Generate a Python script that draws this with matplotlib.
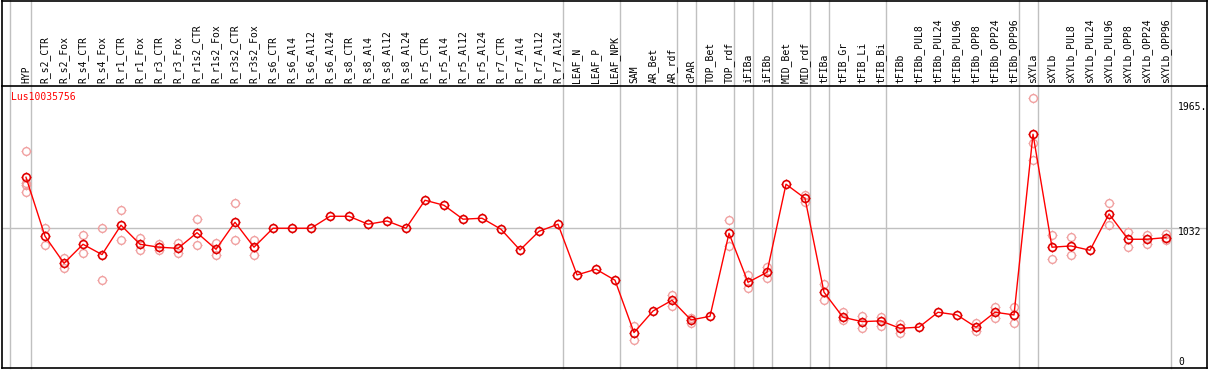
import numpy as np
import matplotlib
matplotlib.use('Agg')
import matplotlib.pyplot as plt
from matplotlib.path import Path
from matplotlib.lines import Line2D

# sample names (top labels)
samples = ['HYP', 'R_s2_CTR', 'R_s2_Fox', 'R_s4_CTR', 'R_s4_Fox', 'R_r1_CTR', 'R_r1_Fox',
           'R_r3_CTR', 'R_r3_Fox', 'R_r1s2_CTR', 'R_r1s2_Fox', 'R_r3s2_CTR', 'R_r3s2_Fox',
           'R_s6_CTR', 'R_s6_Al4', 'R_s6_Al12', 'R_s6_Al24', 'R_s8_CTR', 'R_s8_Al4',
           'R_s8_Al12', 'R_s8_Al24', 'R_r5_CTR', 'R_r5_Al4', 'R_r5_Al12', 'R_r5_Al24',
           'R_r7_CTR', 'R_r7_Al4', 'R_r7_Al12', 'R_r7_Al24', 'LEAF_N', 'LEAF_P', 'LEAF_NPK',
           'SAM', 'AR_Bet', 'AR_rdf', 'cPAR', 'TOP_Bet', 'TOP_rdf', 'iFIBa', 'iFIBb',
           'MID_Bet', 'MID_rdf', 'tFIBa', 'tFIB_Gr', 'tFIB_Li', 'tFIB_Bi', 'tFIBb',
           'tFIBb_PUL8', 'tFIBb_PUL24', 'tFIBb_PUL96', 'tFIBb_OPP8', 'tFIBb_OPP24',
           'tFIBb_OPP96', 'sXYLa', 'sXYLb', 'sXYLb_PUL8', 'sXYLb_PUL24', 'sXYLb_PUL96',
           'sXYLb_OPP8', 'sXYLb_OPP24', 'sXYLb_OPP96']

# mean expression per sample
means = [1398, 975, 781, 917, 843, 1054, 917, 896, 888, 1000, 881, 1075, 896,
         1032, 1032, 1032, 1118, 1118, 1061, 1084, 1032, 1233, 1197, 1097, 1104,
         1025, 876, 1010, 1061, 697, 738, 659,
         283, 438, 515, 374, 400, 996, 644, 716, 1348, 1247,
         573, 393, 362, 367, 314, 322, 429, 410, 322, 429, 410,
         1707, 896, 905, 874, 1135, 953, 953, 965]

# replicate values (empty = hidden under the mean)
reps = [[1585, 1360, 1343, 1290], [1032, 910], [817, 749], [982, 853], [1032, 659],
        [1161, 946], [960, 874], [917, 874], [927, 853], [1097, 910], [927, 840],
        [1211, 946], [950, 838],
        [], [], [], [], [], [], [], [], [], [], [], [], [], [], [], [], [], [], [],
        [331, 230], [], [553, 477], [390, 355], [], [1092, 907], [697, 601], [756, 673],
        [], [1271, 1223],
        [632, 515], [433, 374], [403, 314], [398, 331], [345, 283], [], [], [],
        [350, 297], [469, 390], [465, 350],
        [1965, 1642, 1520], [984, 810], [970, 840], [], [1211, 1056], [1003, 900],
        [984, 917], [991, 946]]

# group separators (after these samples)
group_ends = ['HYP', 'R_r7_Al24', 'LEAF_NPK', 'AR_rdf', 'cPAR', 'TOP_rdf', 'iFIBa',
              'iFIBb', 'MID_rdf', 'tFIBa', 'tFIB_Bi', 'tFIBb_OPP96', 'sXYLa', 'sXYLb_OPP96']

gene = 'Lus10035756'
max_val = 1965
mid_val = 1032

W, H = 1209, 370
fig = plt.figure(figsize=(W / 100, H / 100), dpi=100)

# plot box in pixels
left, right, top, bottom = 2, 1207, 86, 368
ax = fig.add_axes([left / W, 1 - bottom / H, (right - left) / W, (bottom - top) / H])

x = np.arange(len(samples))
ax.set_xlim((left - 26) / 19, (right - 26) / 19)
ax.set_ylim(29, 2053)

# little ticks around the circles
tk = Path.make_compound_path(Path([(0, 1), (0, 1.4)]), Path([(0, -1), (0, -1.4)]),
                             Path([(1, 0), (1.4, 0)]), Path([(-1, 0), (-1.4, 0)]))

# separators and mid line
ax.axhline(mid_val, color='#c0c0c0', lw=1, zorder=0)
ext = bottom / (bottom - top)
ax.axvline(-0.84, 0, ext, color='#c0c0c0', lw=1, clip_on=False, zorder=0)
for g in group_ends:
    ax.axvline(samples.index(g) + 0.25, 0, ext, color='#c0c0c0', lw=1,
               clip_on=False, zorder=0)

# replicates
rx = [i for i, r in enumerate(reps) for _ in r]
ry = [v for r in reps for v in r]
ax.plot(rx, ry, ls='none', marker='o', ms=5.6, mfc='none', mec='#f0a0a0', mew=1, zorder=2)
ax.plot(rx, ry, ls='none', marker=tk, ms=7.8, mfc='none', mec='#f0a0a0', mew=0.8, zorder=2)

# means
ax.plot(x, means, color='red', lw=1, zorder=3)
ax.plot(x, means, ls='none', marker='o', ms=5.6, mfc='none', mec='#e00000', mew=1.2, zorder=4)
ax.plot(x, means, ls='none', marker=tk, ms=7.8, mfc='none', mec='#e00000', mew=0.9, zorder=4)

# top labels
ax.set_xticks(x)
ax.set_xticklabels(samples, rotation=90, family='DejaVu Sans Mono', fontsize=7)
ax.xaxis.tick_top()
ax.tick_params(axis='x', length=0, pad=2)
ax.set_yticks([])

for s in ax.spines.values():
    s.set_color('black')
    s.set_linewidth(1.2)

# right side value labels
ax.text(0.976, (bottom - 107) / (bottom - top), '1965.', transform=ax.transAxes,
        va='center', ha='left', family='DejaVu Sans Mono', fontsize=7)
ax.text(0.976, (bottom - 232) / (bottom - top), str(mid_val), transform=ax.transAxes,
        va='center', ha='left', family='DejaVu Sans Mono', fontsize=7)
ax.text(0.976, (bottom - 362) / (bottom - top), '0', transform=ax.transAxes,
        va='center', ha='left', family='DejaVu Sans Mono', fontsize=7)

ax.text(9 / 1205, (bottom - 97) / (bottom - top), gene, transform=ax.transAxes,
        va='center', ha='left', color='red', family='DejaVu Sans Mono', fontsize=7)

# outer frame around label area
fy = lambda p: 1 - p / H
fx = lambda p: p / W
for xs, ys in [([left, right], [0.5, 0.5]), ([left, left], [0, top]), ([right, right], [0, top])]:
    fig.add_artist(Line2D([fx(v) for v in xs], [fy(v) for v in ys], color='black', lw=1.2))

fig.savefig('out.png', dpi=100)
